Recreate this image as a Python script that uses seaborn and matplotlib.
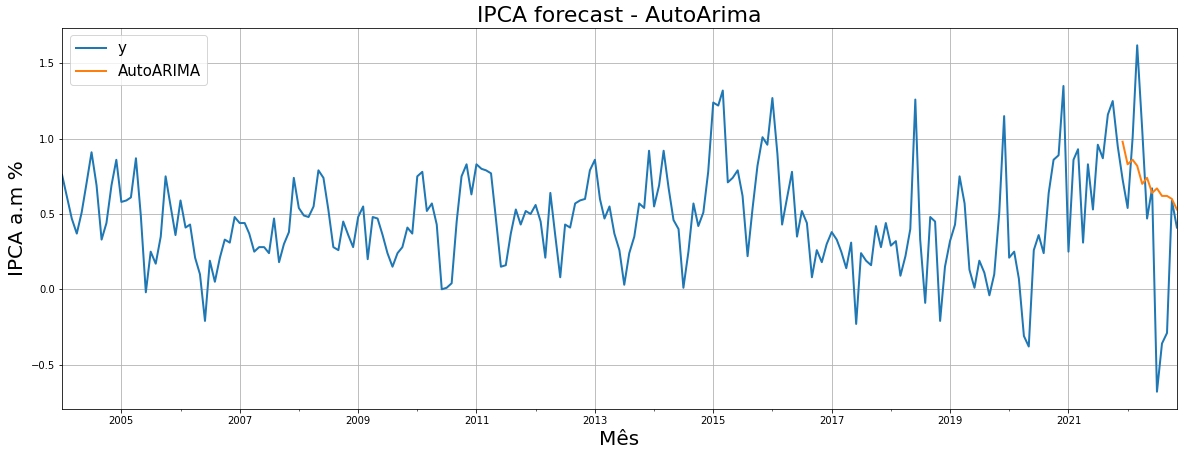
"""IPCA monthly inflation with AutoARIMA forecast"""

import matplotlib
matplotlib.use("Agg")
import matplotlib.pyplot as plt
import matplotlib.dates as mdates
import seaborn as sns
import pandas as pd

# IPCA monthly variation (%), Jan 2004 - Nov 2022
ipca = [
    0.76, 0.61, 0.47, 0.37, 0.51, 0.71, 0.91, 0.69, 0.33, 0.44, 0.69, 0.86,  # 2004
    0.58, 0.59, 0.61, 0.87, 0.49, -0.02, 0.25, 0.17, 0.35, 0.75, 0.55, 0.36,  # 2005
    0.59, 0.41, 0.43, 0.21, 0.10, -0.21, 0.19, 0.05, 0.21, 0.33, 0.31, 0.48,  # 2006
    0.44, 0.44, 0.37, 0.25, 0.28, 0.28, 0.24, 0.47, 0.18, 0.30, 0.38, 0.74,  # 2007
    0.54, 0.49, 0.48, 0.55, 0.79, 0.74, 0.53, 0.28, 0.26, 0.45, 0.36, 0.28,  # 2008
    0.48, 0.55, 0.20, 0.48, 0.47, 0.36, 0.24, 0.15, 0.24, 0.28, 0.41, 0.37,  # 2009
    0.75, 0.78, 0.52, 0.57, 0.43, 0.00, 0.01, 0.04, 0.45, 0.75, 0.83, 0.63,  # 2010
    0.83, 0.80, 0.79, 0.77, 0.47, 0.15, 0.16, 0.37, 0.53, 0.43, 0.52, 0.50,  # 2011
    0.56, 0.45, 0.21, 0.64, 0.36, 0.08, 0.43, 0.41, 0.57, 0.59, 0.60, 0.79,  # 2012
    0.86, 0.60, 0.47, 0.55, 0.37, 0.26, 0.03, 0.24, 0.35, 0.57, 0.54, 0.92,  # 2013
    0.55, 0.69, 0.92, 0.67, 0.46, 0.40, 0.01, 0.25, 0.57, 0.42, 0.51, 0.78,  # 2014
    1.24, 1.22, 1.32, 0.71, 0.74, 0.79, 0.62, 0.22, 0.54, 0.82, 1.01, 0.96,  # 2015
    1.27, 0.90, 0.43, 0.61, 0.78, 0.35, 0.52, 0.44, 0.08, 0.26, 0.18, 0.30,  # 2016
    0.38, 0.33, 0.25, 0.14, 0.31, -0.23, 0.24, 0.19, 0.16, 0.42, 0.28, 0.44,  # 2017
    0.29, 0.32, 0.09, 0.22, 0.40, 1.26, 0.33, -0.09, 0.48, 0.45, -0.21, 0.15,  # 2018
    0.32, 0.43, 0.75, 0.57, 0.13, 0.01, 0.19, 0.11, -0.04, 0.10, 0.51, 1.15,  # 2019
    0.21, 0.25, 0.07, -0.31, -0.38, 0.26, 0.36, 0.24, 0.64, 0.86, 0.89, 1.35,  # 2020
    0.25, 0.86, 0.93, 0.31, 0.83, 0.53, 0.96, 0.87, 1.16, 1.25, 0.95, 0.73,  # 2021
    0.54, 1.01, 1.62, 1.06, 0.47, 0.67, -0.68, -0.36, -0.29, 0.59, 0.41,  # 2022
]
dates = pd.date_range("2004-01-01", periods=len(ipca), freq="MS")

# AutoARIMA forecast, Dec 2021 - Nov 2022
forecast = [0.98, 0.83, 0.86, 0.82, 0.70, 0.74, 0.64, 0.67, 0.62, 0.62, 0.60, 0.53]
forecast_dates = pd.date_range("2021-12-01", periods=len(forecast), freq="MS")

tick_years = [2005, 2007, 2009, 2011, 2013, 2015, 2017, 2019, 2021]
minor_years = [2006, 2008, 2010, 2012, 2014, 2016, 2018, 2020, 2022]

fig = plt.figure(figsize=(1184 / 72, 456 / 72), dpi=72)
ax = fig.add_axes([0.0524, 0.103, 0.9416, 0.8356])

sns.lineplot(x=dates, y=ipca, ax=ax, color="C0", linewidth=2, label="y")
sns.lineplot(x=forecast_dates, y=forecast, ax=ax, color="C1", linewidth=2,
             label="AutoARIMA")

ax.set_xlim(dates[0], dates[-1])
ax.set_xticks([pd.Timestamp(f"{y}-01-01") for y in tick_years])
ax.set_xticklabels([str(y) for y in tick_years])
ax.set_xticks([pd.Timestamp(f"{y}-01-01") for y in minor_years], minor=True)
ax.xaxis.set_minor_formatter(plt.NullFormatter())
ax.tick_params(axis="both", labelsize=10)

ax.grid(True, which="major")
ax.set_title("IPCA forecast - AutoArima", fontsize=22)
ax.set_xlabel("Mês", fontsize=20)
ax.set_ylabel("IPCA a.m %", fontsize=20)
ax.legend(loc="upper left", fontsize=15)

fig.savefig("out.png", dpi=72)
